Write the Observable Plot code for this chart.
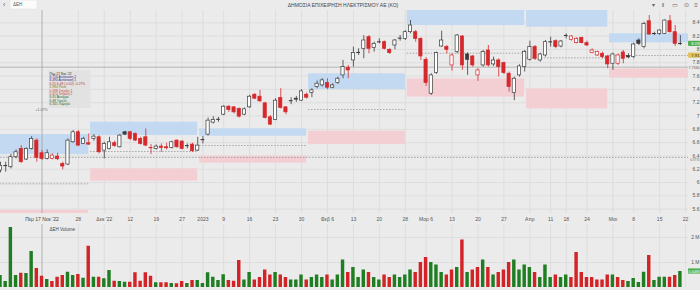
<!DOCTYPE html>
<html><head><meta charset="utf-8">
<script src="https://cdn.jsdelivr.net/npm/d3@7"></script>
<script src="https://cdn.jsdelivr.net/npm/@observablehq/plot@0.6"></script>
<style>
html,body{margin:0;padding:0;background:#ebebeb;}
#wrap{position:relative;width:700px;height:290px;overflow:hidden;background:#ebebeb;font-family:"Liberation Sans",Arial,sans-serif;}
#main,#vol,#over{position:absolute;left:0;}
#main{top:0}#vol{top:224px}#over{top:0;pointer-events:none}
</style></head>
<body><div id="wrap"><div id="main"></div><div id="vol"></div><svg id="over" width="700" height="290"></svg></div>
<script>
// ---------- DATA ----------
const firstDay = "2022-11-07";
const holidays = ["2022-12-26","2023-01-06","2023-02-27","2023-04-07","2023-04-10","2023-04-14","2023-04-17","2023-05-01"];
const open = [
6.18,6.26,6.23,6.38,6.505,6.345,6.505,6.63,6.44,6.355,
6.355,6.39,6.28,6.27,6.605,6.755,6.58,6.59,6.655,6.68,
6.48,6.505,6.59,6.53,6.755,6.755,6.73,6.655,6.68,6.53,
6.505,6.54,6.53,6.52,6.63,6.615,6.56,6.57,6.48,6.65,
6.72,6.90,6.955,7.02,7.14,7.13,7.105,7.02,7.13,7.32,
7.29,7.19,6.98,6.94,7.27,7.13,7.235,7.26,7.23,7.32,
7.345,7.435,7.46,7.495,7.425,7.495,7.61,7.725,7.835,7.96,
8.01,8.185,8.025,8.12,8.11,7.995,8.06,8.175,8.16,8.26,
8.26,8.16,7.845,7.335,7.645,8.045,8.035,7.76,7.96,8.195,
7.925,7.895,7.61,7.76,7.985,7.775,7.835,7.795,7.635,7.345,
7.61,7.735,7.845,8.035,7.835,7.91,8.12,8.125,8.045,8.215,
8.145,8.095,8.175,8.095,7.945,7.91,7.935,7.895,7.785,7.785,
7.955,7.90,7.885,8.135,8.035,8.425,8.245,8.235,8.235,8.425,
8.26,8.095];
const high = [
6.305,6.305,6.42,6.49,6.555,6.52,6.69,6.655,6.48,6.49,
6.43,6.44,6.305,6.655,6.78,6.78,6.68,6.73,6.72,6.705,
6.605,6.68,6.62,6.72,6.77,6.77,6.745,6.68,6.805,6.57,
6.565,6.58,6.59,6.62,6.64,6.63,6.58,6.59,6.68,6.69,
6.97,6.99,6.98,7.155,7.155,7.14,7.12,7.12,7.31,7.335,
7.385,7.205,7.005,7.26,7.41,7.14,7.275,7.295,7.395,7.345,
7.41,7.525,7.56,7.56,7.485,7.585,7.835,7.76,8.035,8.01,
8.21,8.21,8.11,8.16,8.125,8.01,8.15,8.21,8.285,8.435,
8.285,8.175,7.875,7.635,7.96,8.275,8.06,7.935,8.225,8.21,
7.95,7.91,7.71,7.985,8.06,7.885,7.86,7.81,7.66,7.585,
7.77,7.985,8.125,8.06,7.945,8.135,8.185,8.145,8.135,8.235,
8.21,8.175,8.185,8.125,8.01,7.975,7.96,7.91,7.945,7.935,
7.985,7.935,8.095,8.16,8.41,8.51,8.26,8.295,8.445,8.51,
8.36,8.21];
const low = [
6.145,6.155,6.205,6.355,6.29,6.33,6.49,6.305,6.33,6.34,
6.34,6.33,6.19,6.255,6.59,6.54,6.57,6.555,6.62,6.43,
6.355,6.49,6.53,6.52,6.705,6.63,6.615,6.565,6.54,6.42,
6.49,6.455,6.49,6.505,6.515,6.49,6.505,6.455,6.465,6.58,
6.70,6.88,6.905,7.005,7.055,7.03,6.97,7.005,7.115,7.245,
7.205,6.955,6.855,6.93,7.105,7.02,7.17,7.205,7.22,7.255,
7.275,7.41,7.435,7.395,7.41,7.475,7.56,7.56,7.735,7.91,
7.86,7.935,7.96,8.085,7.995,7.925,7.995,8.125,8.135,8.235,
8.11,7.835,7.445,7.31,7.625,8.035,7.935,7.675,7.935,7.685,
7.61,7.735,7.52,7.735,7.735,7.745,7.585,7.625,7.36,7.23,
7.585,7.66,7.825,7.835,7.81,7.885,8.035,8.01,8.025,8.16,
8.125,8.085,8.085,8.045,7.935,7.895,7.86,7.71,7.685,7.76,
7.785,7.86,7.86,8.06,8.01,8.21,8.21,8.21,8.225,8.245,
8.045,8.06];
const close = [
6.25,6.25,6.38,6.455,6.305,6.505,6.655,6.37,6.355,6.44,
6.405,6.35,6.24,6.63,6.755,6.555,6.655,6.57,6.69,6.455,
6.58,6.605,6.55,6.705,6.72,6.655,6.63,6.58,6.555,6.52,
6.54,6.52,6.515,6.605,6.53,6.505,6.55,6.47,6.555,6.64,
6.93,6.94,6.945,7.14,7.09,7.055,6.99,7.10,7.29,7.26,
7.22,6.97,6.87,7.23,7.12,7.055,7.225,7.245,7.37,7.275,
7.385,7.485,7.535,7.425,7.46,7.56,7.735,7.685,7.945,7.95,
8.135,8.01,8.085,8.11,8.01,7.945,8.135,8.165,8.26,8.36,
8.16,7.895,7.495,7.61,7.945,8.135,7.995,7.91,8.21,7.76,
7.845,7.76,7.685,7.96,7.76,7.835,7.735,7.645,7.435,7.56,
7.745,7.96,8.035,7.86,7.925,8.11,8.11,8.035,8.12,8.205,
8.195,8.16,8.095,8.06,7.985,7.96,7.885,7.775,7.925,7.91,
7.86,7.88,8.075,8.085,8.385,8.225,8.235,8.285,8.435,8.26,
8.085,8.085];
// volume in millions of shares
const volume = [
0.48,0.24,2.40,0.48,0.57,0.56,1.44,0.76,0.45,0.32,
0.24,0.41,0.48,0.61,0.48,0.52,0.37,1.65,0.41,0.41,
0.35,0.68,0.25,0.24,0.21,0.21,0.59,0.25,0.59,0.45,
0.19,0.19,0.19,0.16,0.15,0.24,0.16,0.28,0.28,0.16,
0.59,0.41,0.28,0.51,0.28,0.25,1.08,0.30,0.60,0.30,
0.40,0.70,0.50,0.60,0.50,0.40,0.30,0.30,0.50,0.30,
0.40,0.50,0.40,0.50,0.30,0.50,1.10,0.60,0.80,0.40,
0.70,0.60,0.40,0.30,0.50,0.40,0.50,0.40,0.50,0.70,
0.60,1.00,1.20,1.00,0.90,0.60,0.50,0.70,0.80,1.90,
0.60,0.70,0.80,1.10,0.80,0.50,0.60,0.70,1.00,1.10,
0.70,0.90,0.80,0.60,0.40,0.90,0.40,0.50,0.40,0.50,
0.40,1.40,0.60,0.40,0.40,0.30,0.30,0.50,0.50,0.40,
0.28,0.24,0.36,0.20,0.61,1.28,0.28,0.41,0.41,0.41,
0.48,0.64];
// monthly zones (resistance / support / pivot)
const zoneMonth = ["2022-11","2022-12","2023-01","2023-02","2023-03","2023-04","2023-05"];
const resTop = [6.72,6.907,6.806,7.634,8.70,8.70,8.235];
const resBot = [6.42,6.706,6.696,7.398,8.360,8.335,8.100];
const supTop = [5.58,6.205,6.395,6.771,7.558,7.408,7.709];
const supBot = [5.40,6.019,6.290,6.571,7.283,7.107,7.568];
const pivot  = [5.98,6.466,6.556,7.097,7.944,7.874,7.909];
const levelLine = 6.3770;
// axis ticks
const priceTicks = [5.6,5.8,6,6.2,6.4,6.6,6.8,7,7.2,7.4,7.6,7.8,8,8.2,8.4];
const tickDates = ["2022-11-28","2022-12-05","2022-12-12","2022-12-19","2022-12-27","2023-01-02","2023-01-09","2023-01-16","2023-01-23","2023-01-30","2023-02-06","2023-02-13","2023-02-20","2023-02-28","2023-03-06","2023-03-13","2023-03-20","2023-03-27","2023-04-03","2023-04-11","2023-04-18","2023-04-24","2023-05-02","2023-05-08","2023-05-15","2023-05-22"];
const tickLabels = ["28","Δεκ '22","12","19","27","2023","9","16","23","30","Φεβ 6","13","20","28","Μαρ 6","13","20","27","Απρ","11","18","24","Μαι","8","15","22"];
const volTicks = [1,2];
const volTickLabels = ["1 M","2 M"];
const crossDate = "2022-11-17", crossPrice = 7.7346;
const tooltipLines = [
 ["Πεμ 17 Νοε '22","#333"],["6.726 Αντίσταση 2","#2d2f86"],["6.490 Αντίσταση 1","#2d2f86"],
 ["6.25  6.48 (-0.02) -0.27%","#b23a3a"],["5.980 Pivot","#7d7a20"],["5.598 Στήριξη 1","#c23b3b"],
 ["5.470 Στήριξη 2","#c23b3b"],["6.45 Άνοιγμα","#2f6b2f"],["6.48 Υψηλό","#2f6b2f"],["6.345 Χαμηλό","#2f6b2f"]];

// ---------- BUILD ----------
const cal = [];
{ let d = new Date(firstDay+"T12:00:00Z");
  while (cal.length < 140) {
    const s = d.toISOString().slice(0,10), wd = d.getUTCDay();
    if (wd !== 0 && wd !== 6 && !holidays.includes(s)) cal.push(s);
    d = new Date(d.getTime()+86400000);
  } }
const kOf = s => cal.indexOf(s);
const n = open.length;
const candles = d3.range(n).map(i => ({
  k:i, o:open[i], h:high[i], l:low[i], c:close[i], v:volume[i],
  up: close[i] > open[i], dir: i === 0 ? true : close[i] >= close[i-1]
}));
const DARK="#3b3b3b", RED="#d6282b", VGREEN="#1f7d22", VRED="#d42326";
const BLUE="#c3d9f1", PINK="#f3cfd4", GRID="#d9d9d9";
const XMAX = 688/5.19;
const zones = zoneMonth.map((m,i) => {
  const idx = cal.map((d,j)=>d.startsWith(m)?j:-1).filter(j=>j>=0);
  const x1 = idx[0]-0.64;
  const x2 = i === zoneMonth.length-1 ? XMAX : idx[idx.length-1];
  return {x1,x2,rt:resTop[i],rb:resBot[i],st:supTop[i],sb:supBot[i],p:pivot[i]};
});
const tickK = tickDates.map(kOf);
const labelByK = new Map(tickK.map((k,i)=>[k,tickLabels[i]]));
const kCross = kOf(crossDate);
const fmtP = d => String(+d.toFixed(1));
const font = {background:"transparent", fontFamily:"Liberation Sans, Arial, sans-serif", fontSize:"5px", color:"#555", overflow:"visible"};
const body = candles.filter(d=>Math.abs(d.o-d.c)>=0.012);
const doji = candles.filter(d=>Math.abs(d.o-d.c)<0.012);
const col = d => d.dir ? DARK : RED;

const main = Plot.plot({
  width:700, height:224, marginTop:10, marginBottom:11, marginLeft:0, marginRight:12,
  style:font,
  x:{type:"linear", domain:[0,XMAX]},
  y:{domain:[5.534,8.586]},
  marks:[
    Plot.ruleY(priceTicks,{stroke:GRID, strokeWidth:0.7}),
    Plot.ruleX(tickK,{stroke:GRID, strokeWidth:0.7}),
    Plot.rect(zones,{x1:"x1",x2:"x2",y1:"rb",y2:"rt",fill:BLUE,clip:true}),
    Plot.rect(zones,{x1:"x1",x2:"x2",y1:"sb",y2:"st",fill:PINK,clip:true}),
    Plot.ruleY(zones,{y:"p",x1:"x1",x2:"x2",stroke:"#8a8a8a",strokeWidth:0.7,strokeDasharray:"1.5,1.5",clip:true}),
    Plot.ruleY([levelLine],{stroke:"#8a8a8a",strokeWidth:0.7,strokeDasharray:"1.5,1.5"}),
    Plot.ruleY([crossPrice],{stroke:"#9a9a9a",strokeWidth:0.7}),
    Plot.ruleX([kCross],{stroke:"#9a9a9a",strokeWidth:0.7}),
    Plot.ruleX(candles,{x:"k",y1:"l",y2:"h",stroke:col,strokeWidth:0.8,clip:true}),
    Plot.rect(body,{x1:d=>d.k-0.31,x2:d=>d.k+0.31,y1:"o",y2:"c",fill:d=>d.up?"#ffffff":col(d),stroke:col,strokeWidth:0.7,clip:true}),
    Plot.ruleY(doji,{y:d=>(d.o+d.c)/2,x1:d=>d.k-0.36,x2:d=>d.k+0.36,stroke:col,strokeWidth:1.1,clip:true}),
    Plot.axisY({anchor:"right",ticks:priceTicks,tickSize:0,tickPadding:0,textAnchor:"end",dx:11,tickFormat:fmtP,fill:"#555",label:null}),
    Plot.axisX({ticks:tickK,tickSize:0,tickPadding:4,tickFormat:k=>labelByK.get(k),fill:"#555",label:null}),
    Plot.text([kCross],{x:d=>d,frameAnchor:"bottom",dy:7,text:()=>"Πεμ 17 Νοε '22",fill:"#444"})
  ]
});
document.getElementById("main").appendChild(main);

const vol = Plot.plot({
  width:700, height:66, marginTop:0, marginBottom:3, marginLeft:0, marginRight:12,
  style:font,
  x:{type:"linear", domain:[0,XMAX], axis:null},
  y:{domain:[0,2.52], axis:null},
  marks:[
    Plot.ruleY(volTicks,{stroke:GRID, strokeWidth:0.7}),
    Plot.ruleX(tickK,{stroke:GRID, strokeWidth:0.7}),
    Plot.ruleX([kCross],{stroke:"#9a9a9a",strokeWidth:0.7}),
    Plot.rect(candles,{x1:d=>d.k-0.33,x2:d=>d.k+0.33,y1:0,y2:"v",fill:d=>d.dir?VGREEN:VRED,clip:true}),
    Plot.text(volTicks,{x:XMAX,y:d=>d,dx:11,textAnchor:"end",text:d=>volTickLabels[volTicks.indexOf(d)],fill:"#555"}),
    Plot.text(["ΔΕΗ Volume"],{frameAnchor:"top-left",dx:49,dy:3,text:d=>d,fill:"#444",fontSize:4.5})
  ]
});
document.getElementById("vol").appendChild(vol);

// ---------- OVERLAY (header, tooltip, price tags) ----------
const ys = main.scale("y"), xs = main.scale("x"), yv = vol.scale("y");
const svg = d3.select("#over").style("font-family","Liberation Sans, Arial, sans-serif");
svg.append("text").attr("x",343).attr("y",7).attr("text-anchor","middle").attr("font-size",5).attr("fill","#444")
   .text("ΔΗΜΟΣΙΑ ΕΠΙΧΕΙΡΗΣΗ ΗΛΕΚΤΡΙΣΜΟΥ ΑΕ (ΚΟ)");
svg.append("rect").attr("x",10).attr("y",0).attr("width",27).attr("height",9).attr("fill","#fbfbfb").attr("stroke","#dcdcdc").attr("stroke-width",0.5);
svg.append("text").attr("x",13).attr("y",6).attr("font-size",4.5).attr("fill","#555").text("ΔΕΗ");
svg.append("text").attr("x",3).attr("y",7).attr("font-size",7).attr("fill","#666").text("‹");
[["▾",653],["‖",663],["▭",675],["⊙",686],["≡",696]].forEach(([t,x])=>
  svg.append("text").attr("x",x).attr("y",7).attr("text-anchor","middle").attr("font-size",6).attr("fill","#666").text(t));
// tooltip
const tx = xs.apply(kCross)+7;
svg.append("rect").attr("x",tx).attr("y",70).attr("width",42).attr("height",38).attr("fill","#e1e1e1").attr("opacity",0.9);
tooltipLines.forEach(([t,c],i)=> svg.append("text").attr("x",tx+1).attr("y",74.5+i*3.4).attr("font-size",3.3).attr("fill",c).text(t));
svg.append("text").attr("x",xs.apply(kCross)).attr("y",111).attr("text-anchor","middle").attr("font-size",3.5).attr("fill","#666").text("+1.07%");
// right tags
function tag(y,text,bg,fg,fs){
  if (bg) svg.append("rect").attr("x",688).attr("y",y-2.6).attr("width",12).attr("height",5.2).attr("fill",bg).attr("rx",0.8);
  svg.append("text").attr("x",699.5).attr("y",y+1.5).attr("text-anchor","end").attr("font-size",fs||4.2).attr("fill",fg).text(text);
}
const last = candles[n-1];
tag(ys.apply(last.c), last.c.toFixed(2), "#4fae4f", "#ffffff");
tag(ys.apply(pivot[pivot.length-1]), pivot[pivot.length-1].toFixed(2), "#e2c25a", "#333");
tag(ys.apply(crossPrice)+0.4, crossPrice.toFixed(4), null, "#555", 3.6);
tag(ys.apply(levelLine)+2.4, levelLine.toFixed(4), null, "#666", 3.0);
const vy = 224 + yv.apply(last.v);
svg.append("rect").attr("x",688).attr("y",vy-2.6).attr("width",12).attr("height",5.2).attr("fill","#4fae4f");
svg.append("text").attr("x",694).attr("y",vy+1.6).attr("text-anchor","middle").attr("font-size",4).attr("fill","#fff").text(last.v.toFixed(2)+"M");
</script></body></html>
